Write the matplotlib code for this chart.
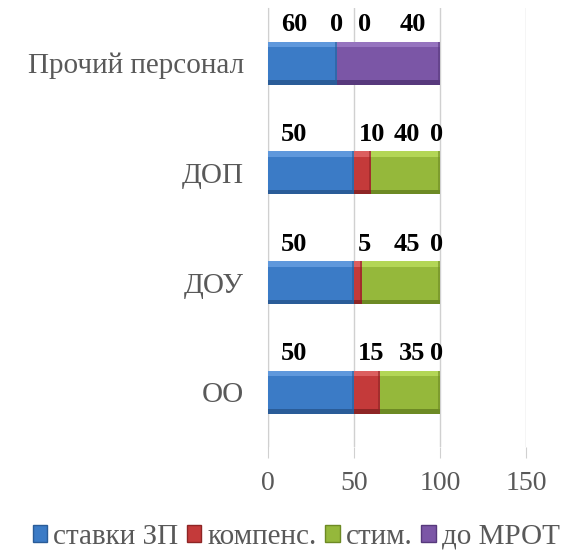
import matplotlib
matplotlib.use("Agg")
import matplotlib.pyplot as plt
from matplotlib.patches import Rectangle
import numpy as np

categories = ["ОО", "ДОУ", "ДОП", "Прочий персонал"]
series_names = ["ставки ЗП", "компенс.", "стим.", "до МРОТ"]
stavki = [50, 50, 50, 40]
kompens = [15, 5, 10, 0]
stim = [35, 45, 40, 0]
do_mrot = [0, 0, 0, 60]
# label texts as shown in the chart
label_stavki = [50, 50, 50, 60]
label_kompens = [15, 5, 10, 0]
label_stim = [35, 45, 40, 0]
label_mrot = [0, 0, 0, 40]
xticks = [0, 50, 100, 150]

colors = ["#3b7bc6", "#c43a3a", "#95b83b", "#7b56a6"]
light = ["#5f98dc", "#dc5f5f", "#b3d656", "#9674bf"]
dark = ["#2a5c98", "#8e2525", "#6d8a24", "#57397c"]

plt.rcParams['font.family'] = ['Liberation Serif', 'DejaVu Serif']

fig = plt.figure(figsize=(5.65, 5.5), dpi=100)
ax = fig.add_axes([0.474, 0.187, 0.457, 0.798])

series = [stavki, kompens, stim, do_mrot]
labels = [label_stavki, label_kompens, label_stim, label_mrot]
y = np.arange(len(categories))
h = 0.39
left = np.zeros(len(categories))
for i, vals in enumerate(series):
    vals = np.array(vals, dtype=float)
    ax.barh(y, vals, left=left, height=h, color=colors[i], edgecolor='none', zorder=3)
    for yi, (l, v) in enumerate(zip(left, vals)):
        if v > 0:
            ax.add_patch(Rectangle((l, yi + h/2 - 0.05), v, 0.05, color=light[i], zorder=4, lw=0))
            ax.add_patch(Rectangle((l, yi - h/2), v, 0.04, color=dark[i], zorder=4, lw=0))
            ax.add_patch(Rectangle((l + v - 1.2, yi - h/2), 1.2, h, color=dark[i], zorder=4, lw=0, alpha=0.6))
    left = left + vals

# data label x positions (data units) per row
label_pos = [
    [15.4, 60.3, 84, 98],
    [15.4, 56, 81, 98],
    [15.4, 60.3, 81, 98],
    [15.4, 40, 56, 84],
]
for yi in range(len(categories)):
    xs = label_pos[yi]
    for j in range(4):
        ax.text(xs[j], yi + 0.35, str(labels[j][yi]), ha='center', va='center',
                fontsize=19, fontweight='bold', color='black', zorder=5)

ax.set_xlim(0, 150)
ax.set_ylim(-0.5, 3.5)
ax.set_xticks(xticks)
ax.set_yticks(y)
ax.set_yticklabels(categories, fontsize=21, color='#595959')
ax.tick_params(axis='y', length=0, pad=17)
ax.tick_params(axis='x', length=8, color='#d0d0d0', labelsize=20, labelcolor='#595959', pad=9)
ax.grid(axis='x', color='#d0d0d0', lw=1, zorder=0)
for s in ['top', 'right', 'bottom']:
    ax.spines[s].set_visible(False)
ax.spines['left'].set_color('#d0d0d0')

handles = [Rectangle((0, 0), 1, 1, facecolor=c, edgecolor=d) for c, d in zip(colors, dark)]
fig.legend(handles, series_names, loc='center', bbox_to_anchor=(0.524, 0.024), ncol=4,
           frameon=False, fontsize=21, handlelength=0.5, handleheight=0.5,
           handletextpad=0.2, columnspacing=0.3, labelcolor='#595959',
           borderpad=0, borderaxespad=0)

fig.savefig("out.png", dpi=100)
